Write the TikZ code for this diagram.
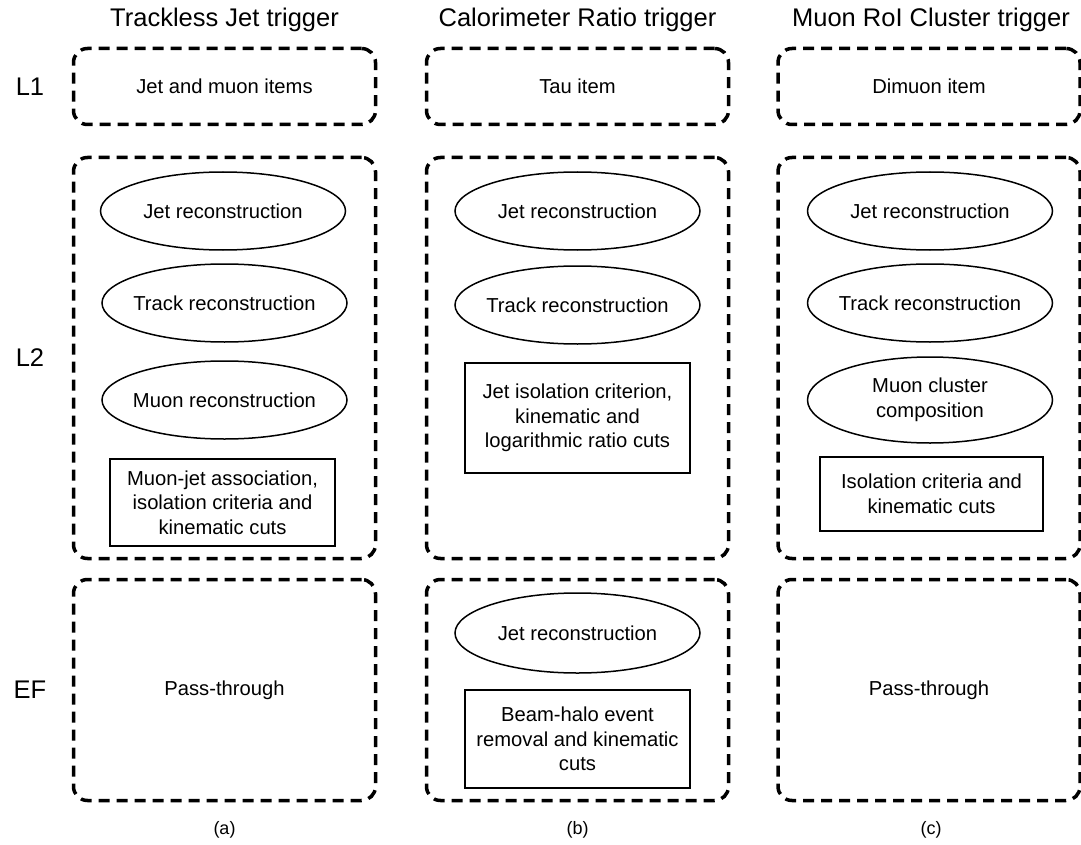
\documentclass[tikz,border=0pt]{standalone}
\usepackage{fontspec}
\setmainfont{Liberation Sans}
\usetikzlibrary{shapes.geometric}
\begin{document}
\begin{tikzpicture}[x=1pt,y=-1pt,
  stage/.style={draw, line width=3.5pt, dash pattern=on 11pt off 7pt,
    rounded corners=14pt, minimum width=302pt, inner sep=0pt, align=center,
    font=\fontsize{20.2}{24.5}\selectfont},
  ell/.style={draw, ellipse, line width=1.5pt, minimum width=245pt,
    minimum height=78pt, inner xsep=-40pt, inner ysep=0pt, align=center,
    font=\fontsize{20.2}{24.5}\selectfont},
  rbox/.style={draw, rectangle, line width=1.5pt, inner sep=0pt, align=center,
    font=\fontsize{20.2}{24.5}\selectfont},
  title/.style={font=\fontsize{25.5}{30}\selectfont, inner sep=0pt},
  lvl/.style={font=\fontsize{25.5}{30}\selectfont, inner sep=0pt},
  sub/.style={font=\fontsize{18}{22}\selectfont, inner sep=0pt}]
\useasboundingbox (0,0) rectangle (1081,845);

% titles
\node[title] (ta) at (224.5,20) {Trackless Jet trigger};
\node[title] (tb) at (577.5,20) {Calorimeter Ratio trigger};
\node[title] (tc) at (931,20) {Muon RoI Cluster trigger};

% level labels
\node[lvl] (l1) at (30,87) {L1};
\node[lvl] (l2) at (30,358) {L2};
\node[lvl] (ef) at (30,690) {EF};

% L1 boxes
\node[stage, minimum height=76pt] (a1) at (224.5,86.5) {Jet and muon items};
\node[stage, minimum height=76pt] (b1) at (577.5,86.5) {Tau item};
\node[stage, minimum height=76pt] (c1) at (929,86.5) {Dimuon item};

% L2 boxes
\node[stage, minimum height=401pt] (a2) at (224.5,358) {};
\node[stage, minimum height=401pt] (b2) at (577.5,358) {};
\node[stage, minimum height=401pt] (c2) at (929,358) {};

% EF boxes
\node[stage, minimum height=221pt] (a3) at (224.5,690) {Pass-through};
\node[stage, minimum height=221pt] (b3) at (577.5,690) {};
\node[stage, minimum height=221pt] (c3) at (929,690) {Pass-through};

% column a
\node[ell] (aj) at (223,211) {Jet reconstruction};
\node[ell] (at) at (224.5,303) {Track reconstruction};
\node[ell] (am) at (224.5,400) {Muon reconstruction};
\node[rbox, minimum width=225pt, minimum height=87pt] (ar) at (222.5,502.5)
  {Muon-jet association,\\isolation criteria and\\kinematic cuts};

% column b
\node[ell] (bj) at (577.5,211) {Jet reconstruction};
\node[ell] (bt) at (577.5,305) {Track reconstruction};
\node[rbox, minimum width=225pt, minimum height=110pt] (br) at (577.5,418)
  {Jet isolation criterion,\\kinematic and\\logarithmic ratio cuts};
\node[ell, minimum height=80pt] (bej) at (577.5,633) {Jet reconstruction};
\node[rbox, minimum width=225pt, minimum height=98pt] (ber) at (577.5,739)
  {Beam-halo event\\removal and kinematic\\cuts};

% column c
\node[ell] (cj) at (930,211) {Jet reconstruction};
\node[ell] (ct) at (930,303) {Track reconstruction};
\node[ell, minimum height=86pt] (cm) at (930,400) {Muon cluster\\composition};
\node[rbox, minimum width=223pt, minimum height=74pt] (cr) at (931.5,494)
  {Isolation criteria and\\kinematic cuts};

% sub labels
\node[sub] (sa) at (224.5,830) {(a)};
\node[sub] (sb) at (577.5,830) {(b)};
\node[sub] (sc) at (931,830) {(c)};
\end{tikzpicture}
\end{document}
